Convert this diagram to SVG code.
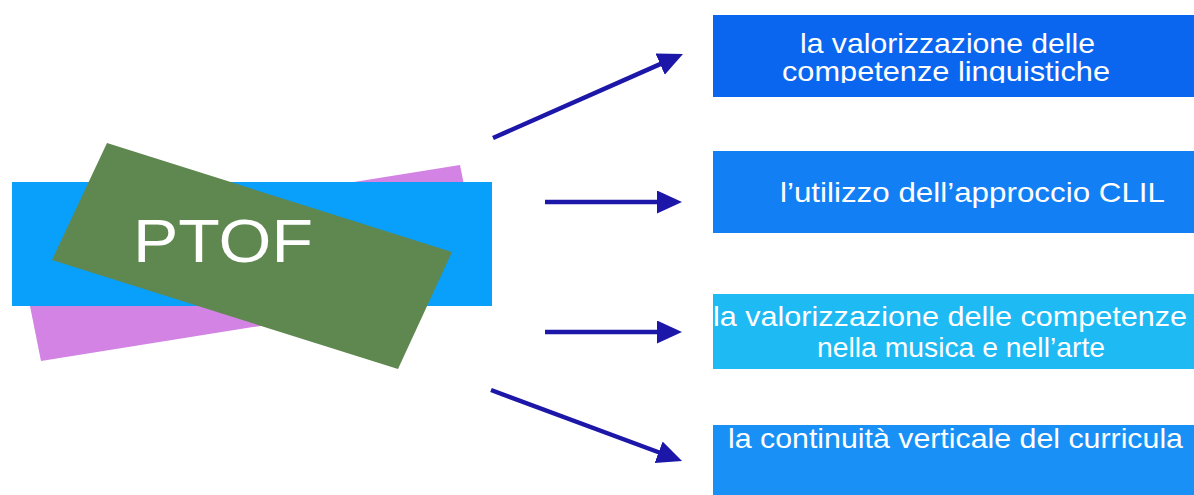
<svg xmlns="http://www.w3.org/2000/svg" width="1194" height="495" viewBox="0 0 1194 495">
<style>
.lbl{font-family:"Liberation Sans",Arial,Helvetica,sans-serif;font-size:28px;fill:#ffffff;}
.ptof{font-family:"Liberation Sans",Arial,Helvetica,sans-serif;font-size:62px;fill:#ffffff;}
.conn{stroke:#1c17a8;stroke-width:4.5;fill:none;marker-end:url(#ah);}
</style>
<defs>
<marker id="ah" markerUnits="userSpaceOnUse" markerWidth="26" markerHeight="24" refX="5" refY="11.5" orient="auto">
<path d="M0,0 L25,11.5 L0,23 Z" fill="#1c17a8"/>
</marker>
<clipPath id="clip1"><rect x="713" y="15" width="481" height="68"/></clipPath>
</defs>
<rect width="1194" height="495" fill="#ffffff"/>
<g id="ptof">
<polygon points="16,236 460,165 485,290 41,361" fill="#d283e3"/>
<rect x="12" y="182" width="480" height="124" fill="#08a0fb"/>
<polygon points="107,143 452,252 398,369 52,260" fill="#5f8750"/>
<text class="ptof" x="133" y="262" textLength="180" lengthAdjust="spacingAndGlyphs">PTOF</text>
</g>
<g id="connectors">
<line class="conn" x1="493" y1="138" x2="664.7" y2="62.1"/>
<line class="conn" x1="545" y1="202" x2="662" y2="202"/>
<line class="conn" x1="545" y1="332" x2="662" y2="332"/>
<line class="conn" x1="491" y1="390" x2="663.3" y2="454"/>
</g>
<g id="box1">
<rect x="713" y="15" width="481" height="82" fill="#0b66ef"/>
<g clip-path="url(#clip1)">
<text class="lbl" x="800" y="53" textLength="295" lengthAdjust="spacingAndGlyphs">la valorizzazione delle</text>
<text class="lbl" x="782" y="81" textLength="328" lengthAdjust="spacingAndGlyphs">competenze linguistiche</text>
</g>
</g>
<g id="box2">
<rect x="713" y="151" width="481" height="82" fill="#137ff5"/>
<text class="lbl" x="780" y="202" textLength="385" lengthAdjust="spacingAndGlyphs">l’utilizzo dell’approccio CLIL</text>
</g>
<g id="box3">
<rect x="713" y="294" width="481" height="75" fill="#1ebaf4"/>
<text class="lbl" x="713" y="326" textLength="474" lengthAdjust="spacingAndGlyphs">la valorizzazione delle competenze</text>
<text class="lbl" x="817" y="357" textLength="288" lengthAdjust="spacingAndGlyphs">nella musica e nell’arte</text>
</g>
<g id="box4">
<rect x="713" y="425" width="481" height="70" fill="#1890f5"/>
<text class="lbl" x="728" y="448" textLength="455" lengthAdjust="spacingAndGlyphs">la continuità verticale del curricula</text>
</g>
</svg>
